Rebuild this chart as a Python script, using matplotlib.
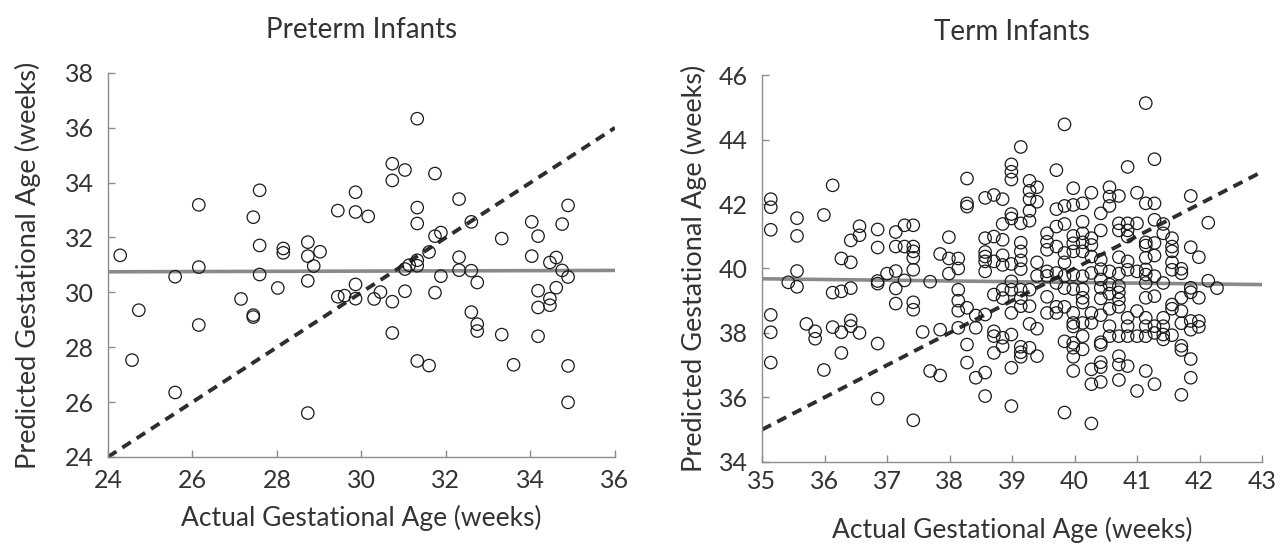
import numpy as np
import matplotlib.pyplot as plt

plt.rcParams['font.family'] = ['Lato', 'DejaVu Sans']

# preterm infants: actual vs predicted gestational age (weeks)
preterm_actual = [24.29, 24.73, 24.57, 25.59, 25.59, 26.15, 26.15, 26.15, 27.59, 27.44,
                  27.59, 27.59, 27.15, 27.44, 27.44, 28.15, 28.15, 28.02, 28.73, 28.73,
                  28.87, 29.02, 28.73, 28.73, 29.44, 29.86, 29.86, 29.86, 29.44, 29.60,
                  29.86, 30.16, 30.30, 30.45, 30.73, 30.73, 31.03, 30.73, 30.73, 31.03,
                  31.03, 31.13, 31.32, 31.32, 31.32, 31.32, 31.32, 31.32, 31.60, 31.60,
                  31.74, 31.74, 31.88, 31.88, 31.74, 32.31, 32.31, 32.31, 32.60, 32.60,
                  32.74, 32.60, 32.74, 32.74, 33.32, 33.32, 33.60, 34.03, 34.18, 34.03,
                  34.18, 34.18, 34.18, 34.46, 34.61, 34.46, 34.46, 34.61, 34.75, 34.89,
                  34.75, 34.89, 34.89, 34.89]
preterm_pred = [31.35, 29.35, 27.53, 30.57, 26.35, 33.19, 30.92, 28.81, 33.72, 32.74,
                31.71, 30.65, 29.76, 29.17, 29.10, 31.60, 31.44, 30.16, 31.83, 31.32,
                30.96, 31.48, 30.42, 25.60, 32.98, 33.65, 32.93, 30.29, 29.84, 29.88,
                29.77, 32.77, 29.76, 30.01, 34.69, 34.08, 34.46, 29.66, 28.52, 30.85,
                30.04, 30.99, 36.33, 33.09, 32.51, 31.17, 30.97, 27.50, 31.47, 27.33,
                34.33, 32.05, 32.18, 30.59, 29.99, 33.40, 31.28, 30.81, 32.57, 30.79,
                30.36, 29.28, 28.84, 28.59, 31.96, 28.46, 27.36, 32.57, 32.05, 31.32,
                30.06, 29.45, 28.40, 31.09, 31.27, 29.77, 29.53, 30.17, 32.49, 33.17,
                30.80, 30.56, 27.32, 25.99]
preterm_fit_x = [24, 36]
preterm_fit_y = [30.75, 30.80]

# term infants
term_actual = [35.14, 35.14, 35.14, 35.14, 35.14, 35.14, 35.42, 35.56, 35.56, 35.56,
               35.56, 35.71, 35.85, 35.85, 35.99, 35.99, 36.13, 36.13, 36.13, 36.27,
               36.27, 36.27, 36.27, 36.42, 36.42, 36.42, 36.42, 36.42, 36.56, 36.56,
               36.56, 36.85, 36.85, 36.85, 36.85, 36.85, 36.85, 37.00, 37.14, 37.14,
               37.14, 37.14, 37.14, 37.28, 37.28, 37.28, 37.42, 37.42, 37.42, 37.42,
               37.42, 37.42, 37.42, 37.42, 37.57, 37.69, 37.69, 37.85, 37.85, 37.99,
               37.85, 37.99, 37.99, 38.14, 38.14, 38.14, 38.14, 38.14, 38.14, 38.28,
               38.28, 38.28, 38.28, 38.28, 38.28, 38.42, 38.42, 38.42, 38.57, 38.57,
               38.57, 38.57, 38.57, 38.57, 38.57, 38.57, 38.57, 38.71, 38.71, 38.71,
               38.71, 38.71, 38.71, 38.71, 38.85, 38.85, 38.85, 38.85, 38.85, 38.85,
               38.85, 38.85, 38.85, 38.99, 38.99, 38.99, 38.99, 38.99, 38.99, 38.99,
               38.99, 38.99, 38.99, 38.99, 38.99, 39.14, 39.14, 39.14, 39.14, 39.14,
               39.14, 39.14, 39.14, 39.14, 39.14, 39.14, 39.14, 39.28, 39.28, 39.28,
               39.28, 39.28, 39.28, 39.28, 39.28, 39.28, 39.40, 39.40, 39.40, 39.40,
               39.40, 39.40, 39.56, 39.56, 39.56, 39.56, 39.56, 39.56, 39.56, 39.71,
               39.71, 39.71, 39.71, 39.71, 39.71, 39.71, 39.71, 39.84, 39.84, 39.84,
               39.84, 39.84, 39.84, 39.84, 39.84, 39.84, 39.84, 39.98, 39.98, 39.98,
               39.98, 39.98, 39.98, 39.98, 39.98, 39.98, 39.98, 39.98, 39.98, 39.98,
               39.98, 40.13, 40.13, 40.13, 40.13, 40.13, 40.13, 40.13, 40.13, 40.13,
               40.13, 40.13, 40.13, 40.27, 40.27, 40.27, 40.27, 40.27, 40.27, 40.27,
               40.27, 40.27, 40.27, 40.42, 40.42, 40.42, 40.42, 40.42, 40.42, 40.42,
               40.42, 40.42, 40.42, 40.42, 40.42, 40.42, 40.56, 40.56, 40.56, 40.56,
               40.56, 40.56, 40.56, 40.56, 40.56, 40.71, 40.71, 40.71, 40.71, 40.71,
               40.71, 40.71, 40.71, 40.71, 40.71, 40.71, 40.71, 40.71, 40.85, 40.85,
               40.85, 40.85, 40.85, 40.85, 40.85, 40.85, 40.85, 40.85, 41.00, 41.00,
               41.00, 41.00, 41.00, 41.00, 41.14, 41.28, 41.14, 41.14, 41.14, 41.14,
               41.14, 41.14, 41.14, 41.14, 41.14, 41.14, 41.14, 41.14, 41.28, 41.28,
               41.28, 41.28, 41.28, 41.28, 41.28, 41.28, 41.28, 41.42, 41.42, 41.42,
               41.42, 41.42, 41.42, 41.42, 41.56, 41.56, 41.56, 41.56, 41.56, 41.56,
               41.56, 41.56, 41.71, 41.71, 41.71, 41.71, 41.71, 41.71, 41.71, 41.71,
               41.86, 41.86, 41.86, 41.86, 41.86, 41.86, 41.86, 41.86, 41.99, 41.99,
               41.99, 41.99, 42.14, 42.14, 42.28]
term_pred = [42.15, 41.90, 41.20, 38.56, 38.02, 37.08, 39.57, 41.56, 41.01, 39.92,
             39.43, 38.28, 38.05, 37.82, 41.66, 36.85, 42.58, 39.25, 38.18, 40.31,
             39.29, 38.02, 37.38, 40.87, 40.19, 39.39, 38.39, 38.21, 41.31, 41.03,
             38.00, 41.21, 40.65, 39.61, 39.53, 37.67, 35.96, 39.84, 41.13, 40.68,
             39.92, 39.38, 38.91, 41.34, 40.68, 39.63, 41.34, 40.68, 40.53, 40.33,
             39.96, 38.95, 38.72, 35.29, 38.03, 39.59, 36.82, 36.68, 38.10, 40.97,
             40.45, 40.31, 39.84, 40.31, 40.00, 39.34, 39.00, 38.69, 38.16, 42.79,
             42.02, 41.92, 38.78, 37.64, 37.08, 38.54, 38.16, 36.61, 42.19, 40.94,
             40.51, 40.37, 40.22, 39.91, 38.57, 36.77, 36.04, 42.28, 40.99, 40.22,
             39.19, 38.05, 37.90, 37.38, 42.15, 41.38, 40.89, 40.41, 40.11, 39.34,
             39.08, 37.85, 37.59, 43.23, 43.00, 42.76, 41.69, 41.55, 40.14, 39.60,
             39.34, 38.62, 37.95, 36.92, 35.73, 43.77, 41.40, 40.80, 40.53, 40.25,
             39.98, 39.34, 39.08, 38.83, 37.57, 37.40, 37.26, 42.72, 42.41, 42.15,
             41.79, 41.48, 39.34, 38.83, 38.28, 37.54, 42.52, 42.07, 40.19, 39.77,
             38.13, 37.28, 41.09, 40.83, 40.58, 39.91, 39.77, 39.12, 38.62, 43.05,
             41.84, 41.30, 40.68, 39.86, 39.55, 38.81, 38.62, 44.47, 41.94, 41.38,
             40.48, 40.19, 39.77, 39.39, 38.81, 37.74, 35.53, 42.49, 41.97, 41.01,
             40.78, 40.53, 39.81, 39.36, 38.62, 38.31, 38.20, 37.69, 37.54, 37.26,
             36.82, 42.02, 41.45, 41.09, 40.81, 40.53, 39.76, 39.35, 39.09, 38.94,
             38.31, 37.90, 37.49, 42.35, 40.94, 40.73, 40.37, 39.86, 38.62, 38.31,
             36.87, 36.41, 35.19, 41.71, 41.18, 40.27, 39.98, 39.66, 39.40, 39.07,
             38.55, 37.71, 37.63, 37.09, 36.94, 36.48, 42.52, 42.23, 41.94, 39.91,
             39.50, 39.22, 38.75, 38.21, 37.90, 42.25, 41.40, 41.18, 40.35, 39.84,
             39.45, 39.26, 39.04, 38.81, 37.90, 37.28, 37.02, 36.54, 43.15, 41.40,
             41.18, 40.99, 40.22, 39.96, 38.47, 38.21, 37.90, 36.97, 42.35, 41.40,
             39.91, 38.68, 37.90, 36.20, 45.13, 43.39, 42.02, 40.81, 40.71, 40.33,
             39.97, 39.81, 39.55, 39.09, 38.47, 38.21, 37.90, 36.82, 42.02, 41.51,
             40.79, 40.40, 39.76, 39.14, 38.21, 38.00, 36.41, 41.38, 41.09, 39.55,
             38.47, 38.21, 37.95, 37.80, 40.94, 40.68, 40.53, 40.19, 39.96, 38.88,
             38.75, 37.93, 39.99, 39.85, 39.09, 38.68, 38.30, 37.60, 37.47, 36.08,
             42.25, 40.66, 39.40, 39.26, 38.37, 38.10, 37.19, 36.61, 40.35, 39.09,
             38.37, 38.19, 41.42, 39.62, 39.39]
term_fit_x = [35, 43]
term_fit_y = [39.68, 39.50]

text_col = '#333333'
axis_col = '#8c8c8c'

fig = plt.figure(figsize=(12.82, 5.44), dpi=100)
ax1 = fig.add_axes([0.0842, 0.16, 0.3955, 0.706])
ax2 = fig.add_axes([0.5944, 0.151, 0.390, 0.711])


def style_axis(ax, xlim, ylim, xticks, yticks, title, xpad, xlabel_pad, ylabel_pad):
    ax.set_xlim(xlim)
    ax.set_ylim(ylim)
    ax.set_xticks(xticks)
    ax.set_yticks(yticks)
    for s in ['top', 'right']:
        ax.spines[s].set_visible(False)
    for s in ['left', 'bottom']:
        ax.spines[s].set_color(axis_col)
        ax.spines[s].set_linewidth(1.0)
    ax.tick_params(direction='in', length=5, width=1, color=axis_col,
                   labelsize=18, labelcolor=text_col)
    ax.tick_params(axis='y', pad=10)
    ax.tick_params(axis='x', pad=xpad)
    ax.set_title(title, fontsize=20, color=text_col, pad=25)
    ax.set_xlabel('Actual Gestational Age (weeks)', fontsize=19, color=text_col,
                  labelpad=xlabel_pad)
    ax.set_ylabel('Predicted Gestational Age (weeks)', fontsize=19.5, color=text_col,
                  labelpad=ylabel_pad)


# preterm
ax1.plot(preterm_fit_x, preterm_fit_y, color='#8a8a8a', lw=2.6, zorder=1)
ax1.plot([24, 36], [24, 36], color='#2e2e2e', lw=2.8, dashes=(2.6, 1.8), zorder=2)
ax1.scatter(preterm_actual, preterm_pred, s=80, facecolors='none',
            edgecolors='#1a1a1a', linewidths=0.9, zorder=3, clip_on=False)
style_axis(ax1, (24, 36), (24, 38), np.arange(24, 37, 2), np.arange(24, 39, 2),
           'Preterm Infants', 9, 9, 17)

# term
ax2.plot(term_fit_x, term_fit_y, color='#8a8a8a', lw=2.6, zorder=1)
ax2.plot([35, 43], [35, 43], color='#2e2e2e', lw=2.8, dashes=(2.6, 1.8), zorder=2)
ax2.scatter(term_actual, term_pred, s=80, facecolors='none',
            edgecolors='#1a1a1a', linewidths=0.9, zorder=3, clip_on=False)
style_axis(ax2, (35, 43), (34, 46), np.arange(35, 44, 1), np.arange(34, 47, 2),
           'Term Infants', 6, 17, 9)

fig.savefig('out.png', dpi=100)
